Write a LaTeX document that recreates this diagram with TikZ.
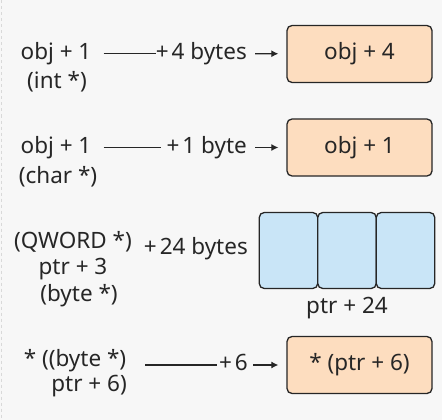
\documentclass[tikz,border=0pt]{standalone}
\usepackage{fontspec}
\setmainfont{Noto Sans}
\usetikzlibrary{positioning,arrows.meta}
\definecolor{bgray}{RGB}{247,247,247}
\definecolor{ink}{RGB}{38,38,38}
\definecolor{peach}{RGB}{253,221,191}
\definecolor{skyb}{RGB}{201,229,247}
\newcommand{\pl}{+\hspace{3pt}}
\begin{document}
\begin{tikzpicture}[>={Latex[length=7pt,width=7pt]},x=1pt,y=-1pt,
  font=\fontsize{22.5}{29}\selectfont,
  txt/.style={text=ink,inner sep=0pt,text height=16pt,text depth=4.5pt},
  cell/.style={txt,draw=ink,line width=1.3pt,rounded corners=5pt,fill=peach,minimum width=145pt,minimum height=57pt},
  qcell/.style={cell,fill=skyb,minimum width=58.5pt,minimum height=76pt},
  wire/.style={draw=ink,line width=1.2pt},
  arr/.style={wire,->,shorten <=8pt,shorten >=8pt}]
\fill[bgray] (0,0) rectangle (442,419);
\draw[gray!30,dashed,line width=1pt] (1,0)--(1,419);
% int pointer
\node[txt] (s1) at (56,53) {obj + 1};
\node[txt] (t1) at (57,82) {(int *)};
\node[txt,anchor=east] (l1) at (247,53) {\pl 4 bytes};
\node[cell] (b1) at (359.5,53.5) {obj + 4};
\draw[wire,shorten <=12pt] (s1)--(l1);
\draw[arr] (l1)--(b1);
% char pointer
\node[txt] (s2) at (56,147) {obj + 1};
\node[txt] (t2) at (58,177) {(char *)};
\node[txt,anchor=east] (l2) at (247,147) {\pl 1 byte};
\node[cell] (b2) at (359.5,147) {obj + 1};
\draw[wire,shorten <=12pt,shorten >=5pt] (s2)--(l2);
\draw[arr] (l2)--(b2);
% qword cast
\node[txt] (s3) at (73,242) {(QWORD *)};
\node[txt] (t3) at (73,268) {ptr + 3};
\node[txt] (u3) at (79,295) {(byte *)};
\node[txt,anchor=east] (l3) at (248,248) {\pl 24 bytes};
\node[qcell] (q1) at (288.5,250) {};
\node[qcell,right=-1.3pt of q1] (q2) {};
\node[qcell,right=-1.3pt of q2] (q3) {};
\node[txt,below=8.5pt of q2] (p3) {ptr + 24};
% deref
\node[txt] (s4) at (75,360) {* ((byte *)};
\node[txt,anchor=east] (t4) at (127,385) {ptr + 6)};
\node[txt,anchor=east] (l4) at (248,364.5) {\pl 6};
\node[cell] (b4) at (359.5,364.5) {* (ptr + 6)};
\draw[wire,shorten <=19pt,shorten >=2pt] (s4.east |- l4)--(l4);
\draw[arr,shorten <=5pt] (l4)--(b4);
\end{tikzpicture}
\end{document}
